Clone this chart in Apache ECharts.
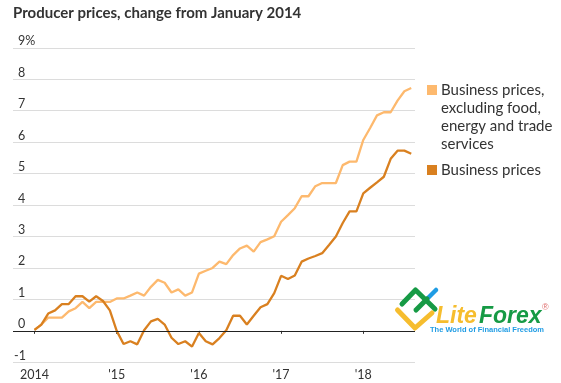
<!DOCTYPE html>
<html>
<head>
<meta charset="utf-8">
<style>
html, body { margin: 0; padding: 0; background: #fff; }
#main { width: 561px; height: 383px; }
</style>
<script src="https://cdn.jsdelivr.net/npm/echarts@6/dist/echarts.min.js"></script>
</head>
<body>
<div id="main"></div>
<script>
// months since January 2014, one value per month up to August 2018
const months = [];
for (let i = 0; i < 56; i++) months.push(i);

const coreName = 'Business prices,\nexcluding food,\nenergy and trade\nservices';
const allName = 'Business prices';

const corePrices = [
    0.03, 0.2, 0.42, 0.42, 0.42, 0.62, 0.72, 0.92, 0.72, 0.92, 0.92, 0.92,
    1.03, 1.03, 1.12, 1.22, 1.12, 1.4, 1.62, 1.53, 1.22, 1.32, 1.12, 1.22,
    1.82, 1.91, 2.0, 2.2, 2.12, 2.41, 2.62, 2.71, 2.52, 2.82, 2.91, 3.01,
    3.47, 3.68, 3.9, 4.28, 4.28, 4.6, 4.7, 4.7, 4.7, 5.27, 5.38, 5.38,
    6.07, 6.45, 6.85, 6.95, 6.95, 7.32, 7.62, 7.72
];
const allPrices = [
    0.03, 0.2, 0.55, 0.65, 0.85, 0.85, 1.1, 1.1, 0.93, 1.1, 0.95, 0.65,
    0.0, -0.42, -0.33, -0.43, 0.02, 0.3, 0.38, 0.2, -0.22, -0.42, -0.33, -0.5,
    -0.07, -0.33, -0.43, -0.23, 0.02, 0.48, 0.48, 0.2, 0.48, 0.75, 0.85, 1.2,
    1.75, 1.65, 1.76, 2.2, 2.3, 2.38, 2.47, 2.73, 3.0, 3.43, 3.8, 3.8,
    4.37, 4.55, 4.72, 4.9, 5.47, 5.73, 5.73, 5.63
];
const yearTicks = [0, 12, 24, 36, 48];
const yearLabels = ['2014', "'15", "'16", "'17", "'18"];
const yTicks = [0, 1, 2, 3, 4, 5, 6, 7, 8, 9];

const fontName = 'Lato';
const lightColor = '#fdb96e';
const darkColor = '#d98020';

function toPairs(values) {
    return values.map((v, i) => [months[i], v]);
}

var myChart = echarts.init(document.getElementById('main'));
var option = {
    animation: false,
    textStyle: { fontFamily: fontName },
    grid: { left: 13, right: 146, top: 47.8, bottom: 20.7 },
    xAxis: {
        type: 'value',
        min: -3.14,
        max: 55.55,
        splitLine: { show: false },
        axisLine: { show: false },
        axisTick: { show: true, customValues: yearTicks, length: 3, lineStyle: { color: '#333' } },
        axisLabel: {
            customValues: yearTicks,
            margin: 6,
            fontSize: 12.5,
            color: '#333',
            formatter: v => yearLabels[yearTicks.indexOf(v)]
        }
    },
    yAxis: [
        {
            type: 'value',
            min: -1,
            max: 9,
            interval: 1,
            axisLine: { show: false },
            axisTick: { show: false },
            splitLine: { lineStyle: { color: '#dcdcdc', width: 1 } },
            axisLabel: {
                inside: true,
                customValues: yTicks,
                margin: 5,
                fontSize: 12.5,
                color: '#333',
                verticalAlign: 'bottom',
                formatter: v => v === 9 ? '9%' : String(v)
            }
        },
        {
            type: 'value',
            position: 'left',
            min: -1,
            max: 9,
            axisLine: { show: false },
            axisTick: { show: false },
            splitLine: { show: false },
            axisLabel: {
                inside: true,
                customValues: [-1],
                margin: 1,
                fontSize: 12.5,
                color: '#333',
                verticalAlign: 'bottom'
            }
        }
    ],
    series: [
        {
            name: coreName,
            type: 'line',
            data: toPairs(corePrices),
            showSymbol: false,
            lineStyle: { color: lightColor, width: 2.3 },
            markLine: {
                silent: true,
                symbol: 'none',
                label: { show: false },
                lineStyle: { color: '#222', width: 1, type: 'solid' },
                data: [{ yAxis: 0 }]
            }
        },
        {
            name: allName,
            type: 'line',
            data: toPairs(allPrices),
            showSymbol: false,
            lineStyle: { color: darkColor, width: 2.3 }
        }
    ],
    graphic: [
        { type: 'text', x: 13, y: 6, style: { text: 'Producer prices, change from January 2014', font: 'bold 15px ' + fontName, fill: '#333' } },
        // legend
        { type: 'rect', shape: { x: 427, y: 85, width: 10, height: 10 }, style: { fill: lightColor } },
        { type: 'text', x: 441, y: 81, style: { text: coreName, font: '15px ' + fontName, lineHeight: 18, fill: '#333' } },
        { type: 'rect', shape: { x: 427, y: 165, width: 10, height: 10 }, style: { fill: darkColor } },
        { type: 'text', x: 441, y: 161, style: { text: allName, font: '15px ' + fontName, lineHeight: 18, fill: '#333' } },
        // watermark
        { type: 'polyline', z: 10, shape: { points: [[428, 298], [436, 290]] }, style: { stroke: '#1f9ce4', lineWidth: 4.5, lineCap: 'round', fill: null } },
        { type: 'polyline', z: 10, shape: { points: [[402, 304], [415.5, 290], [435, 309]] }, style: { stroke: '#169a45', lineWidth: 5, lineCap: 'round', lineJoin: 'round', fill: null } },
        { type: 'polyline', z: 10, shape: { points: [[416, 310], [427, 299]] }, style: { stroke: '#169a45', lineWidth: 5, lineCap: 'round', fill: null } },
        { type: 'polyline', z: 10, shape: { points: [[397.5, 310], [415, 328], [432, 313]] }, style: { stroke: '#f6bd2e', lineWidth: 5, lineCap: 'round', lineJoin: 'round', fill: null } },
        { type: 'text', z: 10, x: 436, y: 305, style: { text: 'Lite', font: 'italic bold 23px "Liberation Sans"', fill: '#f6bd2e' } },
        { type: 'text', z: 10, x: 479, y: 305, style: { text: 'Forex', font: 'italic bold 23px "Liberation Sans"', fill: '#169a45' } },
        { type: 'text', z: 10, x: 430, y: 326, style: { text: 'The World of Financial Freedom', font: 'bold 7.5px "Liberation Sans"', fill: '#1f9ce4' } },
        { type: 'text', z: 10, x: 542, y: 303, style: { text: '®', font: '9px "Liberation Sans"', fill: '#e07070' } }
    ]
};
myChart.setOption(option);
</script>
</body>
</html>
